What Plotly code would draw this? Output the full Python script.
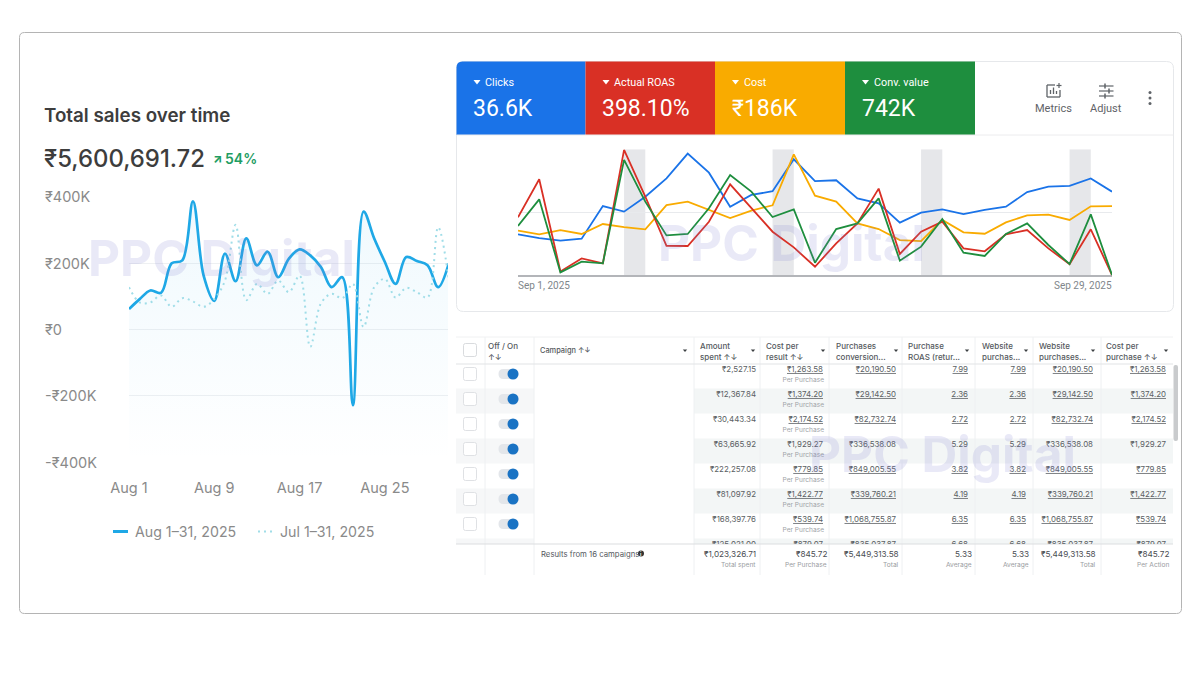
import plotly.graph_objects as go

# ---------- data: left chart (daily total sales, thousands of rupees) ----------
aug_days = list(range(1, 32))
aug_sales = [62, 92, 118, 111, 200, 209, 387, 163, 87, 229, 146, 275, 194, 235, 158, 214,
             242, 224, 189, 128, 158, -228, 356, 275, 204, 138, 219, 207, 194, 128, 200]
jul_sales = [128, 82, 82, 103, 69, 95, 85, 69, 92, 148, 316, 89, 138, 108, 148, 113,
             163, -52, 79, 108, 95, 138, 8, 128, 153, 97, 126, 113, 97, 309, 148]
left_ticks = [400, 200, 0, -200, -400]
left_tick_labels = ["₹400K", "₹200K", "₹0", "-₹200K", "-₹400K"]
left_x_ticks = [1, 9, 17, 25]
left_x_labels = ["Aug 1", "Aug 9", "Aug 17", "Aug 25"]
legend_labels = ["Aug 1–31, 2025", "Jul 1–31, 2025"]

# ---------- data: Google Ads style chart (share of each metric's axis, %) ----------
sep_dates = ["2025-09-%02d" % d for d in range(1, 30)]
clicks = [32.7, 29.8, 27.7, 29.3, 55.1, 50.7, 62.5, 77, 96.6, 81.5, 54.6, 63.9, 66.8, 92.1, 74.9,
          75.5, 61.2, 57.3, 42, 49.9, 52.5, 48.8, 52, 54.6, 66.2, 70.4, 71, 77, 66.5]
roas = [46.2, 76.3, 3.4, 13.7, 9.8, 99.5, 62.5, 23.7, 23.5, 42.7, 72.3, 53.3, 34.8, 22.4, 7.1,
        25.6, 41.4, 68.9, 17.2, 34.8, 42.7, 21.6, 19.3, 32.7, 36.1, 21.6, 9.2, 36.7, 0.5]
cost = [35.6, 32.7, 36.1, 33, 40.9, 38.5, 36.7, 55.9, 58.6, 52, 45.6, 51.5, 55.7, 96, 63.3,
        58.6, 41.4, 36.9, 28.2, 27.4, 44.1, 34.3, 33.2, 42.2, 47.8, 48.3, 44.1, 54.9, 55.1]
conv_value = [39.3, 60.4, 2.6, 11.1, 9.8, 91.6, 58.6, 31.9, 33, 53.3, 79.7, 66.5, 46.4, 52.5, 10.3,
              36.9, 41.4, 61.2, 11.9, 23, 44.9, 18.2, 15.6, 33, 41.4, 24.3, 9.2, 48.5, 0.5]
weekends = [("2025-09-06", "2025-09-07"), ("2025-09-13", "2025-09-14"),
            ("2025-09-20", "2025-09-21"), ("2025-09-27", "2025-09-28")]
kpi_names = ["Clicks", "Actual ROAS", "Cost", "Conv. value"]
kpi_values = ["36.6K", "398.10%", "₹186K", "742K"]

# ---------- data: campaign table ----------
amount_spent = ["₹2,527.15", "₹12,367.84", "₹30,443.34", "₹63,665.92", "₹222,257.08", "₹81,097.92", "₹168,397.76", "₹125,021.00"]
cost_per = ["₹1,263.58", "₹1,374.20", "₹2,174.52", "₹1,929.27", "₹779.85", "₹1,422.77", "₹539.74", "₹879.07"]
conv_values = ["₹20,190.50", "₹29,142.50", "₹82,732.74", "₹336,538.08", "₹849,005.55", "₹339,760.21", "₹1,068,755.87", "₹835,037.87"]
roas_values = ["7.99", "2.36", "2.72", "5.29", "3.82", "4.19", "6.35", "6.68"]
headers = [("Off / On", "↑↓"), ("Campaign ↑↓", ""), ("Amount", "spent ↑↓"), ("Cost per", "result ↑↓"),
           ("Purchases", "conversion..."), ("Purchase", "ROAS (retur..."), ("Website", "purchas..."),
           ("Website", "purchases..."), ("Cost per", "purchase ↑↓")]
footer_main = ["₹1,023,326.71", "₹845.72", "₹5,449,313.58", "5.33", "5.33", "₹5,449,313.58", "₹845.72"]
footer_sub = ["Total spent", "Per Purchase", "Total", "Average", "Average", "Total", "Per Action"]

# ---------- layout constants ----------
W, H = 1200, 675
INTER = "Inter, 'DejaVu Sans', sans-serif"
ROBOTO = "Roboto, 'DejaVu Sans', sans-serif"
SALES = "#1fa8e6"
SALES_PREV = "#a0dde8"
WM = "rgba(125,125,210,0.17)"
DARK = "#3d3d3d"
GREY = "#8a8a8a"
TBL = "#55595e"


def px(x):
    return x / W


def py(y):
    return 1 - y / H


def dom_x(a, b):
    return [a / W, b / W]


def dom_y(top, bottom):
    return [1 - bottom / H, 1 - top / H]


def rr_path(x0, y0, x1, y1, r):
    X0, X1 = px(x0), px(x1)
    Y0, Y1 = py(y0), py(y1)
    rx, ry = r / W, r / H
    return (f"M{X0 + rx},{Y0} L{X1 - rx},{Y0} Q{X1},{Y0} {X1},{Y0 - ry} "
            f"L{X1},{Y1 + ry} Q{X1},{Y1} {X1 - rx},{Y1} L{X0 + rx},{Y1} "
            f"Q{X0},{Y1} {X0},{Y1 + ry} L{X0},{Y0 - ry} Q{X0},{Y0} {X0 + rx},{Y0} Z")


shapes, annos = [], []


def rrect(x0, y0, x1, y1, r=0, fill="rgba(0,0,0,0)", line=None, lw=1):
    d = dict(type="path", xref="paper", yref="paper", path=rr_path(x0, y0, x1, y1, r) if r else None,
             fillcolor=fill, line=dict(color=line or "rgba(0,0,0,0)", width=lw if line else 0), layer="below")
    if not r:
        d = dict(type="rect", xref="paper", yref="paper", x0=px(x0), x1=px(x1), y0=py(y0), y1=py(y1),
                 fillcolor=fill, line=dict(color=line or "rgba(0,0,0,0)", width=lw if line else 0), layer="below")
    shapes.append(d)


def seg(x0, y0, x1, y1, color, lw=1, dash=None, layer="below"):
    shapes.append(dict(type="line", xref="paper", yref="paper", x0=px(x0), x1=px(x1), y0=py(y0), y1=py(y1),
                       line=dict(color=color, width=lw, dash=dash or "solid"), layer=layer))


def circle(cx, cy, r, fill, line=None):
    shapes.append(dict(type="circle", xref="paper", yref="paper", x0=px(cx - r), x1=px(cx + r),
                       y0=py(cy + r), y1=py(cy - r), fillcolor=fill,
                       line=dict(color=line or fill, width=1 if line else 0), layer="below"))


def txt(x, y, s, size, color, anchor="left", weight=400, family=INTER):
    shift = {"left": -1.5, "right": 1, "center": 0}[anchor]
    annos.append(dict(xref="paper", yref="paper", x=px(x), y=py(y), text=s, showarrow=False,
                      xanchor=anchor, yanchor="middle", align=anchor, borderpad=0, xshift=shift,
                      font=dict(size=size, color=color, family=family, weight=weight)))


# ---------- cards ----------
rrect(19.5, 32.5, 1181.5, 613.5, 5, "#ffffff", "#b4b4b4", 1)
rrect(456.5, 61.5, 1173.5, 311.5, 7, "#ffffff", "#e6e8eb", 1)

# ---------- left chart heading ----------
txt(44, 115, "Total sales over time", 18.8, DARK, weight=600)
txt(44, 158, "₹5,600,691.72", 23.9, DARK, weight=500)
txt(213, 159, "↗", 12, "#1f9d63", weight=800)
txt(225, 159, "54%", 14, "#1f9d63", weight=600)

# left y labels are left aligned, positioned by the y scale
for v, lab in zip(left_ticks, left_tick_labels):
    annos.append(dict(xref="paper", yref="y", x=px(45), xshift=-2, y=v, text=lab, showarrow=False, xanchor="left",
                      yanchor="middle", font=dict(size=14.5, color=GREY, family=INTER)))

# left legend
seg(113, 531.5, 128, 531.5, SALES, 3)
txt(135, 531.5, legend_labels[0], 14.2, GREY)
seg(258, 531.5, 273, 531.5, SALES_PREV, 2.2, "2px,4px")
txt(280, 531.5, legend_labels[1], 14.2, GREY)

# ---------- KPI tiles ----------
tile_x = [456.5, 585.5, 715, 845, 975]
tile_col = ["#1a73e8", "#d93025", "#f9ab00", "#1e8e3e"]
for i, c in enumerate(tile_col):
    if i == 0:
        X0, X1, Y0, Y1 = px(tile_x[0]), px(tile_x[1]), py(61.5), py(135)
        rx, ry = 6 / W, 6 / H
        shapes.append(dict(type="path", xref="paper", yref="paper", layer="below", fillcolor=c,
                           line=dict(width=0, color=c),
                           path=f"M{X0},{Y1} L{X0},{Y0 - ry} Q{X0},{Y0} {X0 + rx},{Y0} L{X1},{Y0} L{X1},{Y1} Z"))
    else:
        rrect(tile_x[i], 61.5, tile_x[i + 1], 135, 0, c)
    lx = tile_x[i]
    shapes.append(dict(type="path", xref="paper", yref="paper", layer="above", fillcolor="#ffffff",
                       line=dict(width=0, color="#ffffff"),
                       path=f"M{px(lx + 17)},{py(80)} L{px(lx + 24)},{py(80)} L{px(lx + 20.5)},{py(84.5)} Z"))
    txt(lx + 29, 82, kpi_names[i], 10.8, "#ffffff", family=ROBOTO)
    txt(lx + 17, 108, kpi_values[i], 23, "#ffffff", family=ROBOTO)
seg(456.5, 135, 1173.5, 135, "#ececee", 1)

# toolbar icons
ICON = "#5f6368"
seg(1047, 85, 1047, 97, ICON, 1.3)
seg(1047, 97, 1060, 97, ICON, 1.3)
seg(1060, 97, 1060, 90, ICON, 1.3)
seg(1047, 85, 1055, 85, ICON, 1.3)
seg(1050.5, 94, 1050.5, 90, ICON, 1.3)
seg(1053.5, 94, 1053.5, 87.5, ICON, 1.3)
seg(1056.5, 94, 1056.5, 91, ICON, 1.3)
seg(1059, 83, 1059, 88, ICON, 1.2)
seg(1056.5, 85.5, 1061.5, 85.5, ICON, 1.2)
txt(1053.5, 108, "Metrics", 11, ICON, "center", family=ROBOTO)
for y, a in [(86, 1105), (91, 1109), (96, 1105)]:
    seg(1099, y, 1113.5, y, ICON, 1.2)
    seg(a, y - 2.5, a, y + 2.5, ICON, 1.5)
txt(1106, 108, "Adjust", 11, ICON, "center", family=ROBOTO)
for y in (92.5, 98, 103.5):
    circle(1150, y, 1.5, ICON)

# ---------- table decoration ----------
col_edges = [456, 485, 534, 694, 760, 829, 902, 975, 1033, 1101, 1173]
text_right = [756, 823, 896, 968, 1026, 1093, 1166]
foot_right = [756, 827, 899, 972, 1029, 1096, 1169]
row_h = 25
for k in (1, 3, 5, 7):
    top, bottom = 363.5 + row_h * k, min(363.5 + row_h * (k + 1), 544)
    rrect(456, top, 534, bottom, 0, "#f6f7f8")
    rrect(694, top, 1173, bottom, 0, "#f3f6f6")
for x in col_edges[1:-1]:
    seg(x, 337, x, 575, "#eef0f2", 1)
seg(456, 337, 1173, 337, "#f0f1f2", 1)
seg(456, 364, 1173, 364, "#e2e4e6", 1.2)
seg(456, 544, 1173, 544, "#dcdedf", 1.2)
rrect(1173.5, 365, 1178, 441, 2, "#c9cbcd")

# header labels
head_x = [489, 540, 700, 766, 836, 909, 982, 1039, 1106]
caret_x = [685, 753, 823, 896, 967, 1026, 1093, 1166]
for (a, b), x in zip(headers, head_x):
    if b:
        txt(x, 346, a, 8, TBL, weight=500)
        txt(x, 357, b, 8, TBL, weight=500)
    else:
        txt(x, 350, a, 7.4, TBL, weight=500)
for x in caret_x:
    shapes.append(dict(type="path", xref="paper", yref="paper", layer="below", fillcolor="#3c4043",
                       line=dict(width=0, color="#3c4043"),
                       path=f"M{px(x - 2.2)},{py(349.5)} L{px(x + 2.2)},{py(349.5)} L{px(x)},{py(352)} Z"))

# check boxes and toggles
rrect(463.5, 343.5, 476.5, 356.5, 2, "#ffffff", "#d9dbde", 1)
for k in range(7):
    cy = 374 + row_h * k
    rrect(463.5, cy - 6.5, 476.5, cy + 6.5, 2, "#ffffff", "#dfe1e4", 1)
    rrect(498.5, cy - 5, 518.5, cy + 5, 5, "#e3e6ea")
    circle(513, cy, 5.5, "#1a73c4")

# footer
txt(541.5, 554, "Results from 16 campaigns", 7.75, TBL)
circle(641, 553.5, 3, "#333333")
txt(641, 553.5, "i", 5, "#ffffff", "center", 700)
for m, s, x in zip(footer_main, footer_sub, foot_right):
    txt(x, 554, m, 8.2, "#4a4d52", "right")
    txt(x, 564.5, s, 6.6, "#9a9da1", "right")

# watermarks
txt(221, 258, "PPC Digital", 49.5, WM, "center", 700)
txt(791, 243, "PPC Digital", 49.5, WM, "center", 700)
txt(942, 454, "PPC Digital", 49.5, WM, "center", 700)

# weekend bands through the date axis
for a, b in weekends:
    shapes.append(dict(type="rect", xref="x2", yref="y2", x0=a, x1=b, y0=0, y1=100, layer="below",
                       fillcolor="#e6e7ea", line=dict(width=0)))

# axis end labels of the Sep chart
annos.append(dict(xref="x2", yref="paper", x=sep_dates[0], y=py(285), xshift=-2, text="Sep 1, 2025", showarrow=False,
                  xanchor="left", yanchor="middle", font=dict(size=10, color="#80868b", family=ROBOTO)))
annos.append(dict(xref="x2", yref="paper", x=sep_dates[-1], y=py(285), xshift=2, text="Sep 29, 2025", showarrow=False,
                  xanchor="right", yanchor="middle", font=dict(size=10, color="#80868b", family=ROBOTO)))

# ---------- traces ----------
fig = go.Figure()
floor = [left_ticks[-1]] * len(aug_days)
fig.add_trace(go.Scatter(x=aug_days, y=floor, mode="lines", line=dict(width=0), hoverinfo="skip"))
fig.add_trace(go.Scatter(x=aug_days, y=aug_sales, mode="lines", line=dict(color=SALES, width=2.7, shape="spline", smoothing=1.0),
                         fill="tonexty", hoverinfo="skip",
                         fillgradient=dict(type="vertical",
                                           colorscale=[[0, "rgba(31,168,230,0.0)"], [1, "rgba(31,168,230,0.07)"]])))
fig.add_trace(go.Scatter(x=aug_days, y=jul_sales, mode="lines", hoverinfo="skip",
                         line=dict(color=SALES_PREV, width=2, shape="spline", smoothing=1.0, dash="2px,4px")))

for series, color in [(clicks, "#1a73e8"), (cost, "#f9ab00"), (roas, "#d93025"), (conv_value, "#1e8e3e")]:
    fig.add_trace(go.Scatter(x=sep_dates, y=series, mode="lines", xaxis="x2", yaxis="y2", hoverinfo="skip",
                             cliponaxis=False, line=dict(color=color, width=1.8)))

# table body: text clipped by the subplot so the 8th row is cut by the footer
text_cols = [amount_spent, cost_per, conv_values, roas_values, roas_values, conv_values, cost_per]
row_index = list(range(8))
for c, (vals, right) in enumerate(zip(text_cols, text_right)):
    under = ["none" if (c == 0 or k == 3) else "under" for k in row_index]
    fig.add_trace(go.Scatter(x=[right] * 8, y=row_index, text=vals, mode="text", xaxis="x3", yaxis="y3",
                             textposition="middle left", hoverinfo="skip", cliponaxis=True,
                             textfont=dict(size=7.9, color="#5b5f64", family=INTER, lineposition=under)))
fig.add_trace(go.Scatter(x=[text_right[1] + 1] * 7, y=[k + 0.42 for k in row_index[:7]], text=["Per Purchase"] * 7,
                         mode="text", xaxis="x3", yaxis="y3", textposition="middle left", hoverinfo="skip",
                         cliponaxis=True, textfont=dict(size=6.6, color="#a0a3a7", family=INTER)))

fig.update_layout(
    width=W, height=H, autosize=False, showlegend=False, margin=dict(l=0, r=0, t=0, b=0),
    paper_bgcolor="#ffffff", plot_bgcolor="rgba(0,0,0,0)", shapes=shapes, annotations=annos,
    xaxis=dict(domain=dom_x(129, 448), range=[1, 30.92], tickmode="array", tickvals=left_x_ticks, automargin=False,
               ticktext=left_x_labels, showgrid=False, zeroline=False, showline=False, ticks="outside",
               ticklen=12, tickcolor="rgba(0,0,0,0)", tickfont=dict(size=14.5, color=GREY, family=INTER)),
    yaxis=dict(domain=dom_y(197, 462.3), range=[-400, 400], tickmode="array", tickvals=left_ticks, automargin=False,
               showticklabels=False, gridcolor="#eef0f2", gridwidth=1, zeroline=False, showline=False),
    xaxis2=dict(domain=dom_x(518, 1112), range=[sep_dates[0], sep_dates[-1]], type="date", anchor="y2", automargin=False,
                showticklabels=False, showgrid=False, zeroline=False, showline=False),
    yaxis2=dict(domain=dom_y(149.3, 275.7), range=[0, 100], anchor="x2", tickmode="array", tickvals=[50, 100], automargin=False,
                showticklabels=False, gridcolor="#e8eaed", gridwidth=1, showline=False,
                zeroline=True, zerolinecolor="#b3b5b9", zerolinewidth=1.6),
    xaxis3=dict(domain=dom_x(456, 1178), range=[456, 1178], anchor="y3", visible=False, automargin=False),
    yaxis3=dict(domain=dom_y(364, 544), range=[(544 - 370) / row_h, -6 / row_h], anchor="x3", visible=False, automargin=False),
)

fig.write_html("out.html", config=dict(displayModeBar=False),
               post_script="document.body.style.margin='0';document.body.style.overflow='hidden';")
